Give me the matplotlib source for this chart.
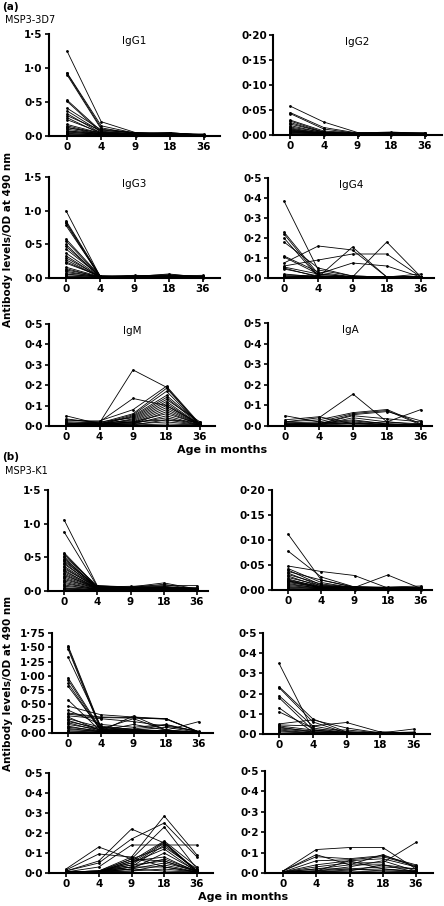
import matplotlib.pyplot as plt

plt.rcParams['font.family'] = ['DejaVu Sans']

months = ["0", "4", "9", "18", "36"]
months_k1_iga = ["0", "4", "8", "18", "36"]

# (a) MSP3-3D7, one row per child: values at 0, 4, 9, 18, 36 months
igg1_3d7 = [
    [1.25, 0.21, 0.05, 0.04, 0.02], [0.93, 0.15, 0.04, 0.05, 0.01], [0.92, 0.12, 0.03, 0.03, 0.01],
    [0.90, 0.10, 0.05, 0.02, 0.01], [0.53, 0.07, 0.03, 0.04, 0.02], [0.51, 0.05, 0.02, 0.02, 0.01],
    [0.41, 0.09, 0.04, 0.03, 0.03], [0.37, 0.06, 0.03, 0.05, 0.01], [0.33, 0.04, 0.02, 0.02, 0.01],
    [0.30, 0.08, 0.05, 0.03, 0.02], [0.27, 0.03, 0.02, 0.04, 0.01], [0.24, 0.05, 0.04, 0.02, 0.01],
    [0.17, 0.04, 0.02, 0.03, 0.02], [0.15, 0.03, 0.03, 0.02, 0.01], [0.13, 0.02, 0.02, 0.01, 0.01],
    [0.12, 0.05, 0.03, 0.02, 0.01], [0.10, 0.03, 0.02, 0.04, 0.01], [0.08, 0.02, 0.01, 0.02, 0.01],
    [0.07, 0.04, 0.03, 0.01, 0.02], [0.06, 0.02, 0.02, 0.03, 0.01], [0.05, 0.03, 0.01, 0.02, 0.01],
    [0.04, 0.01, 0.02, 0.01, 0.01], [0.03, 0.02, 0.01, 0.02, 0.00], [0.02, 0.01, 0.01, 0.01, 0.01],
    [0.01, 0.01, 0.00, 0.01, 0.00],
]
igg2_3d7 = [
    [0.058, 0.026, 0.005, 0.004, 0.003], [0.045, 0.015, 0.004, 0.005, 0.004], [0.043, 0.012, 0.003, 0.003, 0.002],
    [0.030, 0.008, 0.004, 0.006, 0.003], [0.028, 0.006, 0.003, 0.002, 0.004], [0.025, 0.005, 0.002, 0.004, 0.002],
    [0.022, 0.006, 0.003, 0.003, 0.003], [0.019, 0.004, 0.004, 0.002, 0.002], [0.016, 0.005, 0.002, 0.005, 0.004],
    [0.014, 0.003, 0.003, 0.003, 0.002], [0.012, 0.004, 0.002, 0.002, 0.003], [0.011, 0.003, 0.003, 0.004, 0.002],
    [0.010, 0.002, 0.002, 0.003, 0.003], [0.009, 0.003, 0.001, 0.002, 0.002], [0.008, 0.002, 0.002, 0.003, 0.001],
    [0.007, 0.004, 0.003, 0.002, 0.002], [0.006, 0.002, 0.002, 0.001, 0.002], [0.005, 0.003, 0.001, 0.002, 0.001],
    [0.004, 0.002, 0.002, 0.003, 0.002], [0.003, 0.001, 0.001, 0.002, 0.001],
]
igg3_3d7 = [
    [1.00, 0.02, 0.03, 0.05, 0.02], [0.85, 0.03, 0.02, 0.03, 0.04], [0.83, 0.02, 0.03, 0.02, 0.01],
    [0.81, 0.01, 0.02, 0.04, 0.02], [0.78, 0.02, 0.04, 0.03, 0.01], [0.58, 0.03, 0.02, 0.02, 0.03],
    [0.55, 0.02, 0.01, 0.03, 0.02], [0.50, 0.01, 0.02, 0.06, 0.01], [0.47, 0.02, 0.03, 0.02, 0.02],
    [0.43, 0.03, 0.02, 0.01, 0.01], [0.37, 0.02, 0.01, 0.02, 0.02], [0.33, 0.01, 0.02, 0.03, 0.01],
    [0.30, 0.02, 0.03, 0.02, 0.03], [0.27, 0.01, 0.02, 0.01, 0.01], [0.24, 0.02, 0.01, 0.02, 0.02],
    [0.22, 0.03, 0.02, 0.01, 0.01], [0.16, 0.02, 0.01, 0.02, 0.01], [0.14, 0.01, 0.02, 0.01, 0.02],
    [0.12, 0.02, 0.01, 0.02, 0.01], [0.10, 0.01, 0.02, 0.01, 0.01], [0.08, 0.02, 0.01, 0.01, 0.02],
    [0.06, 0.01, 0.01, 0.02, 0.01], [0.05, 0.02, 0.02, 0.01, 0.01], [0.03, 0.01, 0.01, 0.01, 0.01],
    [0.02, 0.01, 0.01, 0.01, 0.00],
]
igg4_3d7 = [
    [0.385, 0.040, 0.010, 0.005, 0.005], [0.230, 0.020, 0.005, 0.005, 0.005], [0.220, 0.010, 0.005, 0.005, 0.005],
    [0.200, 0.005, 0.005, 0.005, 0.005], [0.180, 0.050, 0.010, 0.005, 0.005], [0.110, 0.030, 0.005, 0.005, 0.005],
    [0.105, 0.020, 0.075, 0.060, 0.005], [0.075, 0.160, 0.140, 0.005, 0.005], [0.060, 0.090, 0.120, 0.120, 0.005],
    [0.055, 0.020, 0.005, 0.180, 0.005], [0.050, 0.005, 0.155, 0.005, 0.005], [0.045, 0.010, 0.005, 0.005, 0.005],
    [0.020, 0.005, 0.005, 0.005, 0.020], [0.015, 0.010, 0.005, 0.005, 0.005], [0.010, 0.005, 0.010, 0.005, 0.005],
    [0.010, 0.005, 0.005, 0.005, 0.005], [0.005, 0.010, 0.005, 0.005, 0.005],
]
igm_3d7 = [
    [0.050, 0.010, 0.020, 0.030, 0.005], [0.035, 0.015, 0.275, 0.190, 0.005], [0.030, 0.020, 0.135, 0.100, 0.005],
    [0.025, 0.025, 0.080, 0.195, 0.010], [0.020, 0.015, 0.060, 0.185, 0.005], [0.015, 0.010, 0.055, 0.170, 0.005],
    [0.015, 0.005, 0.050, 0.150, 0.010], [0.010, 0.010, 0.045, 0.140, 0.005], [0.010, 0.020, 0.040, 0.130, 0.020],
    [0.010, 0.005, 0.035, 0.120, 0.005], [0.005, 0.010, 0.030, 0.110, 0.005], [0.005, 0.015, 0.025, 0.100, 0.010],
    [0.005, 0.005, 0.020, 0.090, 0.005], [0.005, 0.010, 0.015, 0.080, 0.005], [0.005, 0.005, 0.010, 0.070, 0.005],
    [0.005, 0.010, 0.020, 0.060, 0.010], [0.005, 0.005, 0.010, 0.050, 0.005], [0.005, 0.010, 0.015, 0.040, 0.005],
    [0.005, 0.005, 0.005, 0.030, 0.020], [0.005, 0.005, 0.010, 0.020, 0.005], [0.005, 0.005, 0.005, 0.010, 0.005],
]
iga_3d7 = [
    [0.050, 0.020, 0.010, 0.010, 0.005], [0.030, 0.045, 0.010, 0.020, 0.010], [0.020, 0.040, 0.155, 0.020, 0.005],
    [0.020, 0.030, 0.065, 0.080, 0.010], [0.015, 0.020, 0.060, 0.075, 0.005], [0.015, 0.010, 0.055, 0.070, 0.025],
    [0.010, 0.010, 0.050, 0.035, 0.020], [0.010, 0.005, 0.040, 0.020, 0.080], [0.010, 0.015, 0.030, 0.010, 0.005],
    [0.005, 0.010, 0.025, 0.010, 0.005], [0.005, 0.005, 0.020, 0.005, 0.010], [0.005, 0.010, 0.015, 0.005, 0.005],
    [0.005, 0.005, 0.010, 0.005, 0.005], [0.005, 0.005, 0.005, 0.005, 0.005],
]

# (b) MSP3-K1
igg1_k1 = [
    [1.06, 0.08, 0.06, 0.12, 0.03], [0.88, 0.07, 0.05, 0.10, 0.02], [0.57, 0.06, 0.07, 0.08, 0.08],
    [0.55, 0.05, 0.04, 0.06, 0.04], [0.52, 0.08, 0.05, 0.05, 0.02], [0.50, 0.04, 0.06, 0.07, 0.03],
    [0.48, 0.06, 0.04, 0.04, 0.05], [0.46, 0.05, 0.05, 0.06, 0.02], [0.44, 0.07, 0.03, 0.05, 0.03],
    [0.42, 0.04, 0.05, 0.04, 0.02], [0.40, 0.06, 0.04, 0.05, 0.04], [0.37, 0.05, 0.03, 0.03, 0.02],
    [0.35, 0.04, 0.05, 0.04, 0.03], [0.33, 0.06, 0.04, 0.06, 0.02], [0.31, 0.03, 0.03, 0.03, 0.02],
    [0.29, 0.05, 0.04, 0.04, 0.03], [0.27, 0.04, 0.03, 0.05, 0.02], [0.25, 0.03, 0.04, 0.03, 0.02],
    [0.23, 0.05, 0.03, 0.04, 0.03], [0.21, 0.04, 0.02, 0.03, 0.02], [0.19, 0.03, 0.03, 0.04, 0.02],
    [0.17, 0.04, 0.02, 0.03, 0.03], [0.15, 0.03, 0.03, 0.02, 0.02], [0.13, 0.02, 0.02, 0.03, 0.02],
    [0.11, 0.03, 0.03, 0.02, 0.01], [0.09, 0.02, 0.02, 0.03, 0.02], [0.07, 0.03, 0.02, 0.02, 0.01],
    [0.05, 0.02, 0.03, 0.02, 0.02], [0.04, 0.02, 0.02, 0.01, 0.01], [0.03, 0.01, 0.02, 0.02, 0.01],
    [0.02, 0.02, 0.01, 0.01, 0.01], [0.01, 0.01, 0.01, 0.01, 0.01],
]
igg2_k1 = [
    [0.112, 0.020, 0.005, 0.004, 0.003], [0.078, 0.026, 0.006, 0.005, 0.004], [0.048, 0.037, 0.029, 0.004, 0.003],
    [0.043, 0.015, 0.004, 0.006, 0.008], [0.040, 0.010, 0.005, 0.030, 0.003], [0.037, 0.020, 0.006, 0.005, 0.004],
    [0.034, 0.008, 0.004, 0.003, 0.006], [0.031, 0.012, 0.005, 0.004, 0.003], [0.028, 0.006, 0.007, 0.005, 0.002],
    [0.025, 0.009, 0.004, 0.003, 0.004], [0.022, 0.005, 0.005, 0.004, 0.003], [0.020, 0.007, 0.003, 0.003, 0.002],
    [0.019, 0.004, 0.004, 0.004, 0.003], [0.018, 0.006, 0.003, 0.002, 0.002], [0.017, 0.004, 0.003, 0.003, 0.004],
    [0.015, 0.005, 0.004, 0.002, 0.003], [0.013, 0.003, 0.002, 0.003, 0.002], [0.011, 0.004, 0.003, 0.002, 0.002],
    [0.009, 0.003, 0.002, 0.002, 0.003], [0.007, 0.002, 0.003, 0.003, 0.002], [0.005, 0.003, 0.002, 0.002, 0.001],
    [0.003, 0.002, 0.001, 0.001, 0.002],
]
igg3_k1 = [
    [1.53, 0.10, 0.05, 0.03, 0.02], [1.50, 0.08, 0.04, 0.02, 0.01], [1.47, 0.05, 0.03, 0.02, 0.02],
    [1.33, 0.12, 0.06, 0.04, 0.02], [0.97, 0.07, 0.25, 0.05, 0.01], [0.93, 0.05, 0.03, 0.02, 0.02],
    [0.87, 0.04, 0.05, 0.03, 0.01], [0.82, 0.06, 0.04, 0.02, 0.02], [0.58, 0.03, 0.30, 0.05, 0.01],
    [0.47, 0.32, 0.28, 0.25, 0.02], [0.40, 0.15, 0.10, 0.15, 0.02], [0.35, 0.28, 0.27, 0.24, 0.02],
    [0.33, 0.27, 0.26, 0.25, 0.01], [0.30, 0.25, 0.20, 0.12, 0.03], [0.28, 0.04, 0.15, 0.05, 0.20],
    [0.25, 0.10, 0.07, 0.14, 0.02], [0.22, 0.05, 0.05, 0.10, 0.01], [0.20, 0.08, 0.04, 0.04, 0.02],
    [0.18, 0.03, 0.06, 0.03, 0.01], [0.15, 0.06, 0.03, 0.02, 0.02], [0.12, 0.02, 0.04, 0.03, 0.01],
    [0.10, 0.04, 0.02, 0.02, 0.01], [0.08, 0.02, 0.03, 0.01, 0.02], [0.06, 0.03, 0.02, 0.02, 0.01],
    [0.04, 0.01, 0.02, 0.01, 0.01], [0.02, 0.02, 0.01, 0.01, 0.01],
]
igg4_k1 = [
    [0.350, 0.020, 0.005, 0.005, 0.005], [0.235, 0.075, 0.010, 0.005, 0.005], [0.230, 0.060, 0.005, 0.010, 0.005],
    [0.190, 0.040, 0.010, 0.005, 0.005], [0.180, 0.020, 0.005, 0.005, 0.005], [0.130, 0.010, 0.005, 0.005, 0.005],
    [0.110, 0.030, 0.005, 0.005, 0.005], [0.050, 0.070, 0.030, 0.005, 0.005], [0.045, 0.040, 0.057, 0.010, 0.005],
    [0.040, 0.020, 0.020, 0.005, 0.025], [0.035, 0.010, 0.005, 0.005, 0.005], [0.030, 0.015, 0.010, 0.005, 0.010],
    [0.025, 0.010, 0.005, 0.005, 0.005], [0.020, 0.005, 0.005, 0.005, 0.005], [0.015, 0.005, 0.010, 0.005, 0.005],
    [0.010, 0.005, 0.005, 0.005, 0.005], [0.005, 0.005, 0.005, 0.005, 0.005],
]
igm_k1 = [
    [0.020, 0.130, 0.070, 0.060, 0.010], [0.015, 0.095, 0.080, 0.030, 0.005], [0.010, 0.060, 0.220, 0.150, 0.010],
    [0.010, 0.050, 0.170, 0.250, 0.080], [0.005, 0.030, 0.140, 0.140, 0.140], [0.005, 0.010, 0.080, 0.285, 0.090],
    [0.005, 0.010, 0.070, 0.230, 0.020], [0.005, 0.005, 0.060, 0.160, 0.030], [0.005, 0.005, 0.050, 0.155, 0.010],
    [0.005, 0.010, 0.040, 0.150, 0.005], [0.005, 0.005, 0.030, 0.140, 0.010], [0.005, 0.005, 0.070, 0.130, 0.020],
    [0.005, 0.010, 0.050, 0.120, 0.005], [0.005, 0.005, 0.020, 0.100, 0.010], [0.005, 0.005, 0.060, 0.080, 0.005],
    [0.005, 0.010, 0.030, 0.070, 0.010], [0.005, 0.005, 0.040, 0.060, 0.005], [0.005, 0.005, 0.020, 0.050, 0.010],
    [0.005, 0.005, 0.010, 0.040, 0.005], [0.005, 0.005, 0.030, 0.030, 0.005], [0.005, 0.005, 0.010, 0.020, 0.005],
    [0.005, 0.005, 0.020, 0.010, 0.005],
]
iga_k1 = [
    [0.010, 0.115, 0.125, 0.125, 0.020], [0.010, 0.090, 0.040, 0.090, 0.030], [0.010, 0.080, 0.070, 0.085, 0.040],
    [0.005, 0.060, 0.065, 0.080, 0.035], [0.005, 0.040, 0.060, 0.070, 0.030], [0.005, 0.030, 0.050, 0.050, 0.150],
    [0.005, 0.020, 0.040, 0.040, 0.020], [0.005, 0.010, 0.030, 0.060, 0.010], [0.005, 0.020, 0.020, 0.030, 0.020],
    [0.005, 0.010, 0.060, 0.020, 0.010], [0.005, 0.005, 0.010, 0.040, 0.005], [0.005, 0.010, 0.020, 0.010, 0.010],
    [0.005, 0.005, 0.015, 0.020, 0.005], [0.005, 0.005, 0.005, 0.010, 0.005],
]

W, H = 444, 906
fig = plt.figure(figsize=(W / 100, H / 100), dpi=100)

# pixel layout of each small plot: axis left, tick "0", tick "36", axis right, top, bottom
# then data, y max, y step, decimals, title, x labels
panels = [
    (49, 67, 204, 220, 34, 136, igg1_3d7, 1.5, 0.5, 1, "IgG1", months),
    (273, 290, 425, 442, 35, 135, igg2_3d7, 0.20, 0.05, 2, "IgG2", months),
    (49, 66, 203, 220, 177, 278, igg3_3d7, 1.5, 0.5, 1, "IgG3", months),
    (268, 284, 421, 434, 178, 278, igg4_3d7, 0.5, 0.1, 1, "IgG4", months),
    (49, 66, 200, 215, 324, 426, igm_3d7, 0.5, 0.1, 1, "IgM", months),
    (268, 285, 421, 432, 323, 426, iga_3d7, 0.5, 0.1, 1, "IgA", months),
    (48, 64, 197, 208, 490, 591, igg1_k1, 1.5, 0.5, 1, "", months),
    (272, 288, 421, 432, 490, 590, igg2_k1, 0.20, 0.05, 2, "", months),
    (52, 68, 199, 213, 633, 733, igg3_k1, 1.75, 0.25, 2, "", months),
    (263, 279, 414, 430, 633, 734, igg4_k1, 0.5, 0.1, 1, "", months),
    (49, 66, 197, 213, 773, 873, igm_k1, 0.5, 0.1, 1, "", months),
    (265, 283, 416, 433, 771, 873, iga_k1, 0.5, 0.1, 1, "", months_k1_iga),
]

for L, t0, t4, R, top, bot, rows, ymax, ystep, dec, title, xlabels in panels:
    ax = fig.add_axes([L / W, 1 - bot / H, (R - L) / W, (bot - top) / H])
    step = (t4 - t0) / 4
    ax.set_xlim(-(t0 - L) / step, 4 + (R - t4) / step)
    ax.set_ylim(0, ymax)
    for r in rows:
        ax.plot(range(5), r, color="black", lw=0.6, marker="o", ms=1.0,
                clip_on=False, zorder=3)
    nt = int(round(ymax / ystep))
    yt = [i * ystep for i in range(nt + 1)]
    ax.set_yticks(yt)
    ax.set_yticklabels([f"{v:.{dec}f}".replace(".", "\u00b7") for v in yt])
    ax.set_xticks(range(5))
    ax.set_xticklabels(xlabels)
    for s in ["top", "right"]:
        ax.spines[s].set_visible(False)
    for s in ["left", "bottom"]:
        ax.spines[s].set_linewidth(1.5)
    ax.tick_params(direction="out", length=3, width=1.2, pad=1.5, labelsize=7.5)
    for lab in ax.get_xticklabels() + ax.get_yticklabels():
        lab.set_fontweight("bold")
    if title:
        ax.text(0.5, 0.93, title, transform=ax.transAxes, ha="center", va="center", fontsize=7.5)

# panel labels and shared axis titles
fig.text(2 / W, 1 - 7 / H, "(a)", fontsize=7.5, fontweight="bold", va="center")
fig.text(5 / W, 1 - 20 / H, "MSP3-3D7", fontsize=7, va="center")
fig.text(2 / W, 1 - 457 / H, "(b)", fontsize=7.5, fontweight="bold", va="center")
fig.text(5 / W, 1 - 471 / H, "MSP3-K1", fontsize=7, va="center")
ylab = "Antibody levels/OD at 490 nm"
fig.text(8 / W, 1 - 239 / H, ylab, rotation=90, fontsize=7.5, fontweight="bold", ha="center", va="center")
fig.text(8 / W, 1 - 683 / H, ylab, rotation=90, fontsize=7.5, fontweight="bold", ha="center", va="center")
fig.text(222 / W, 1 - 450 / H, "Age in months", fontsize=8, fontweight="bold", ha="center", va="center")
fig.text(243 / W, 1 - 897 / H, "Age in months", fontsize=8, fontweight="bold", ha="center", va="center")

fig.savefig("out.png", dpi=100)
